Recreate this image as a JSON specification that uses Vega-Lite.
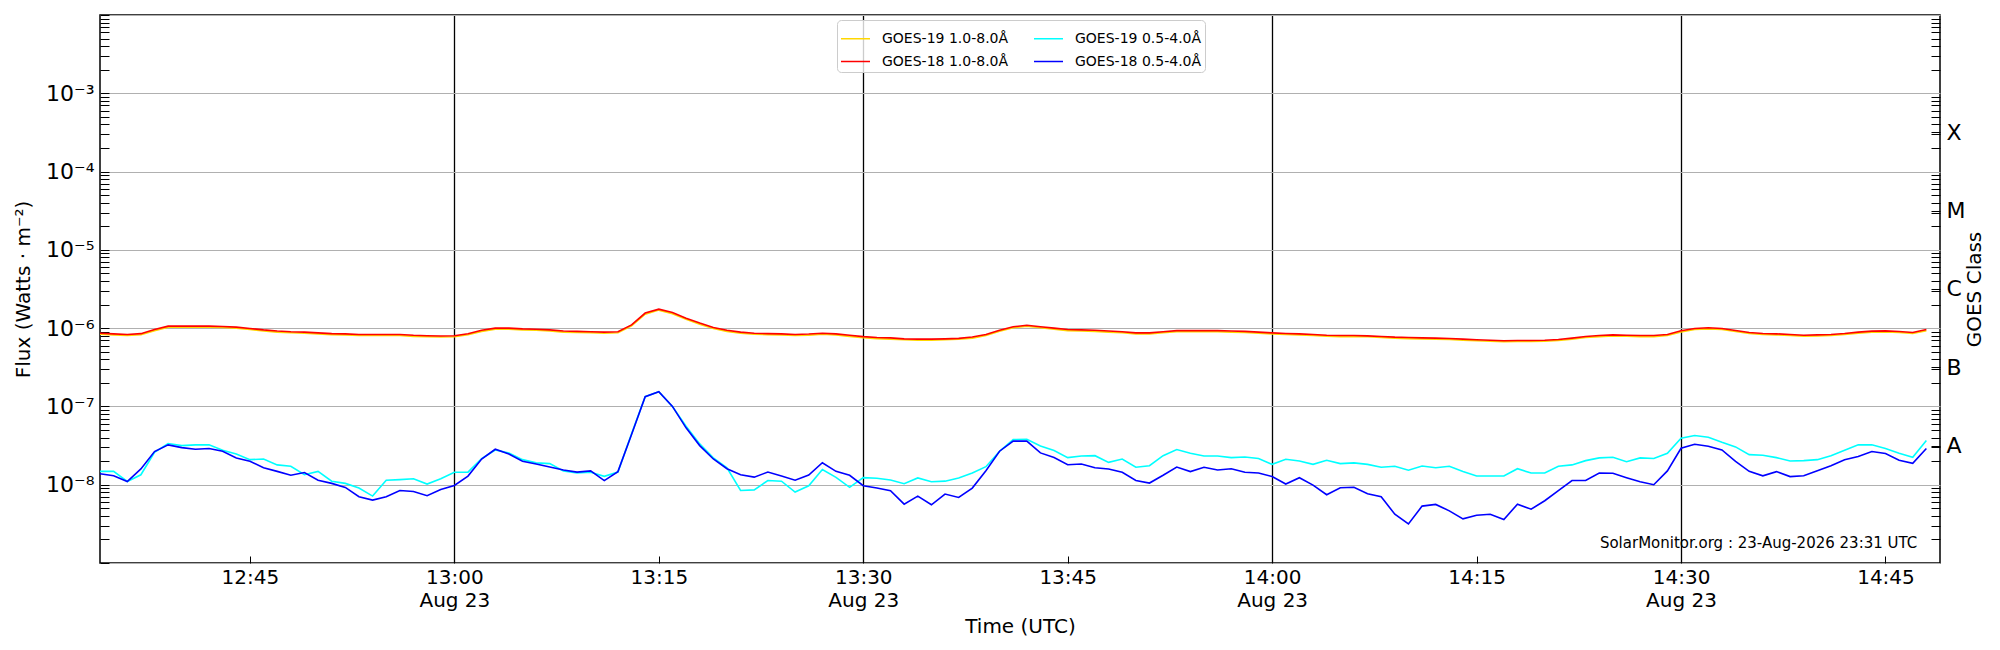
{
  "$schema": "https://vega.github.io/schema/vega-lite/v6.json",
  "width": 1840,
  "height": 548,
  "autosize": "none",
  "padding": {"left": 100, "top": 15, "right": 60, "bottom": 87},
  "config": {
    "font": "DejaVu Sans",
    "view": {"stroke": "black", "strokeWidth": 1.5},
    "axis": {"domain": false, "labelColor": "black", "titleColor": "black", "tickColor": "black", "titleFontWeight": "normal", "labelOverlap": false, "labelFlush": false}
  },
  "datasets": {
    "goes": [
      {"t":"2026-08-23T12:34:00Z","g19l":8.34e-7,"g19s":1.48e-8,"g18l":8.6e-7,"g18s":1.38e-8},
      {"t":"2026-08-23T12:35:00Z","g19l":8.2e-7,"g19s":1.48e-8,"g18l":8.45e-7,"g18s":1.30e-8},
      {"t":"2026-08-23T12:36:00Z","g19l":8.05e-7,"g19s":1.10e-8,"g18l":8.3e-7,"g18s":1.10e-8},
      {"t":"2026-08-23T12:37:00Z","g19l":8.25e-7,"g19s":1.34e-8,"g18l":8.5e-7,"g18s":1.59e-8},
      {"t":"2026-08-23T12:38:00Z","g19l":9.3e-7,"g19s":2.60e-8,"g18l":9.6e-7,"g18s":2.65e-8},
      {"t":"2026-08-23T12:39:00Z","g19l":1.03e-6,"g19s":3.36e-8,"g18l":1.06e-6,"g18s":3.23e-8},
      {"t":"2026-08-23T12:40:00Z","g19l":1.03e-6,"g19s":3.16e-8,"g18l":1.06e-6,"g18s":2.98e-8},
      {"t":"2026-08-23T12:41:00Z","g19l":1.03e-6,"g19s":3.23e-8,"g18l":1.06e-6,"g18s":2.84e-8},
      {"t":"2026-08-23T12:42:00Z","g19l":1.03e-6,"g19s":3.23e-8,"g18l":1.06e-6,"g18s":2.90e-8},
      {"t":"2026-08-23T12:43:00Z","g19l":1.02e-6,"g19s":2.75e-8,"g18l":1.05e-6,"g18s":2.68e-8},
      {"t":"2026-08-23T12:44:00Z","g19l":1.0e-6,"g19s":2.47e-8,"g18l":1.03e-6,"g18s":2.20e-8},
      {"t":"2026-08-23T12:45:00Z","g19l":9.6e-7,"g19s":2.09e-8,"g18l":9.9e-7,"g18s":1.99e-8},
      {"t":"2026-08-23T12:46:00Z","g19l":9.2e-7,"g19s":2.13e-8,"g18l":9.5e-7,"g18s":1.65e-8},
      {"t":"2026-08-23T12:47:00Z","g19l":8.9e-7,"g19s":1.79e-8,"g18l":9.2e-7,"g18s":1.48e-8},
      {"t":"2026-08-23T12:48:00Z","g19l":8.75e-7,"g19s":1.72e-8,"g18l":9.0e-7,"g18s":1.32e-8},
      {"t":"2026-08-23T12:49:00Z","g19l":8.6e-7,"g19s":1.34e-8,"g18l":8.9e-7,"g18s":1.43e-8},
      {"t":"2026-08-23T12:50:00Z","g19l":8.45e-7,"g19s":1.48e-8,"g18l":8.7e-7,"g18s":1.14e-8},
      {"t":"2026-08-23T12:51:00Z","g19l":8.25e-7,"g19s":1.11e-8,"g18l":8.5e-7,"g18s":1.04e-8},
      {"t":"2026-08-23T12:52:00Z","g19l":8.2e-7,"g19s":1.04e-8,"g18l":8.45e-7,"g18s":9.25e-9},
      {"t":"2026-08-23T12:53:00Z","g19l":8.05e-7,"g19s":9.06e-9,"g18l":8.3e-7,"g18s":7.02e-9},
      {"t":"2026-08-23T12:54:00Z","g19l":8.05e-7,"g19s":7.16e-9,"g18l":8.3e-7,"g18s":6.36e-9},
      {"t":"2026-08-23T12:55:00Z","g19l":8.05e-7,"g19s":1.14e-8,"g18l":8.3e-7,"g18s":7.02e-9},
      {"t":"2026-08-23T12:56:00Z","g19l":8.05e-7,"g19s":1.16e-8,"g18l":8.3e-7,"g18s":8.45e-9},
      {"t":"2026-08-23T12:57:00Z","g19l":7.85e-7,"g19s":1.19e-8,"g18l":8.1e-7,"g18s":8.2e-9},
      {"t":"2026-08-23T12:58:00Z","g19l":7.75e-7,"g19s":1.02e-8,"g18l":8.0e-7,"g18s":7.23e-9},
      {"t":"2026-08-23T12:59:00Z","g19l":7.7e-7,"g19s":1.19e-8,"g18l":7.95e-7,"g18s":8.7e-9},
      {"t":"2026-08-23T13:00:00Z","g19l":7.75e-7,"g19s":1.44e-8,"g18l":8.0e-7,"g18s":9.8e-9},
      {"t":"2026-08-23T13:01:00Z","g19l":8.25e-7,"g19s":1.45e-8,"g18l":8.5e-7,"g18s":1.29e-8},
      {"t":"2026-08-23T13:02:00Z","g19l":9.1e-7,"g19s":2.16e-8,"g18l":9.4e-7,"g18s":2.13e-8},
      {"t":"2026-08-23T13:03:00Z","g19l":9.7e-7,"g19s":2.78e-8,"g18l":1.0e-6,"g18s":2.84e-8},
      {"t":"2026-08-23T13:04:00Z","g19l":9.7e-7,"g19s":2.55e-8,"g18l":1.0e-6,"g18s":2.47e-8},
      {"t":"2026-08-23T13:05:00Z","g19l":9.5e-7,"g19s":2.09e-8,"g18l":9.8e-7,"g18s":1.99e-8},
      {"t":"2026-08-23T13:06:00Z","g19l":9.4e-7,"g19s":1.90e-8,"g18l":9.7e-7,"g18s":1.84e-8},
      {"t":"2026-08-23T13:07:00Z","g19l":9.2e-7,"g19s":1.86e-8,"g18l":9.5e-7,"g18s":1.68e-8},
      {"t":"2026-08-23T13:08:00Z","g19l":8.9e-7,"g19s":1.50e-8,"g18l":9.2e-7,"g18s":1.54e-8},
      {"t":"2026-08-23T13:09:00Z","g19l":8.8e-7,"g19s":1.41e-8,"g18l":9.1e-7,"g18s":1.45e-8},
      {"t":"2026-08-23T13:10:00Z","g19l":8.75e-7,"g19s":1.44e-8,"g18l":9.0e-7,"g18s":1.50e-8},
      {"t":"2026-08-23T13:11:00Z","g19l":8.6e-7,"g19s":1.28e-8,"g18l":8.9e-7,"g18s":1.13e-8},
      {"t":"2026-08-23T13:12:00Z","g19l":8.75e-7,"g19s":1.45e-8,"g18l":9.0e-7,"g18s":1.47e-8},
      {"t":"2026-08-23T13:13:00Z","g19l":1.07e-6,"g19s":4.46e-8,"g18l":1.10e-6,"g18s":4.38e-8},
      {"t":"2026-08-23T13:14:00Z","g19l":1.51e-6,"g19s":1.33e-7,"g18l":1.56e-6,"g18s":1.33e-7},
      {"t":"2026-08-23T13:15:00Z","g19l":1.70e-6,"g19s":1.54e-7,"g18l":1.75e-6,"g18s":1.54e-7},
      {"t":"2026-08-23T13:16:00Z","g19l":1.53e-6,"g19s":1.0e-7,"g18l":1.58e-6,"g18s":1.0e-7},
      {"t":"2026-08-23T13:17:00Z","g19l":1.30e-6,"g19s":5.6e-8,"g18l":1.34e-6,"g18s":5.33e-8},
      {"t":"2026-08-23T13:18:00Z","g19l":1.12e-6,"g19s":3.32e-8,"g18l":1.16e-6,"g18s":3.16e-8},
      {"t":"2026-08-23T13:19:00Z","g19l":9.9e-7,"g19s":2.20e-8,"g18l":1.02e-6,"g18s":2.13e-8},
      {"t":"2026-08-23T13:20:00Z","g19l":9.1e-7,"g19s":1.64e-8,"g18l":9.4e-7,"g18s":1.60e-8},
      {"t":"2026-08-23T13:21:00Z","g19l":8.6e-7,"g19s":8.45e-9,"g18l":8.9e-7,"g18s":1.34e-8},
      {"t":"2026-08-23T13:22:00Z","g19l":8.35e-7,"g19s":8.6e-9,"g18l":8.6e-7,"g18s":1.25e-8},
      {"t":"2026-08-23T13:23:00Z","g19l":8.25e-7,"g19s":1.13e-8,"g18l":8.5e-7,"g18s":1.45e-8},
      {"t":"2026-08-23T13:24:00Z","g19l":8.2e-7,"g19s":1.11e-8,"g18l":8.45e-7,"g18s":1.29e-8},
      {"t":"2026-08-23T13:25:00Z","g19l":8.05e-7,"g19s":8.05e-9,"g18l":8.3e-7,"g18s":1.14e-8},
      {"t":"2026-08-23T13:26:00Z","g19l":8.15e-7,"g19s":9.7e-9,"g18l":8.4e-7,"g18s":1.33e-8},
      {"t":"2026-08-23T13:27:00Z","g19l":8.35e-7,"g19s":1.56e-8,"g18l":8.6e-7,"g18s":1.91e-8},
      {"t":"2026-08-23T13:28:00Z","g19l":8.2e-7,"g19s":1.24e-8,"g18l":8.45e-7,"g18s":1.48e-8},
      {"t":"2026-08-23T13:29:00Z","g19l":7.85e-7,"g19s":9.25e-9,"g18l":8.1e-7,"g18s":1.32e-8},
      {"t":"2026-08-23T13:30:00Z","g19l":7.55e-7,"g19s":1.23e-8,"g18l":7.8e-7,"g18s":9.7e-9},
      {"t":"2026-08-23T13:31:00Z","g19l":7.35e-7,"g19s":1.21e-8,"g18l":7.6e-7,"g18s":9.06e-9},
      {"t":"2026-08-23T13:32:00Z","g19l":7.25e-7,"g19s":1.15e-8,"g18l":7.5e-7,"g18s":8.38e-9},
      {"t":"2026-08-23T13:33:00Z","g19l":7.1e-7,"g19s":1.03e-8,"g18l":7.3e-7,"g18s":5.65e-9},
      {"t":"2026-08-23T13:34:00Z","g19l":7.0e-7,"g19s":1.22e-8,"g18l":7.25e-7,"g18s":7.16e-9},
      {"t":"2026-08-23T13:35:00Z","g19l":7.0e-7,"g19s":1.09e-8,"g18l":7.25e-7,"g18s":5.54e-9},
      {"t":"2026-08-23T13:36:00Z","g19l":7.1e-7,"g19s":1.11e-8,"g18l":7.3e-7,"g18s":7.6e-9},
      {"t":"2026-08-23T13:37:00Z","g19l":7.2e-7,"g19s":1.22e-8,"g18l":7.4e-7,"g18s":6.88e-9},
      {"t":"2026-08-23T13:38:00Z","g19l":7.45e-7,"g19s":1.41e-8,"g18l":7.7e-7,"g18s":9.06e-9},
      {"t":"2026-08-23T13:39:00Z","g19l":8.05e-7,"g19s":1.70e-8,"g18l":8.3e-7,"g18s":1.51e-8},
      {"t":"2026-08-23T13:40:00Z","g19l":9.1e-7,"g19s":2.68e-8,"g18l":9.4e-7,"g18s":2.68e-8},
      {"t":"2026-08-23T13:41:00Z","g19l":1.01e-6,"g19s":3.77e-8,"g18l":1.04e-6,"g18s":3.6e-8},
      {"t":"2026-08-23T13:42:00Z","g19l":1.06e-6,"g19s":3.81e-8,"g18l":1.09e-6,"g18s":3.6e-8},
      {"t":"2026-08-23T13:43:00Z","g19l":1.01e-6,"g19s":3.13e-8,"g18l":1.04e-6,"g18s":2.55e-8},
      {"t":"2026-08-23T13:44:00Z","g19l":9.7e-7,"g19s":2.73e-8,"g18l":1.0e-6,"g18s":2.22e-8},
      {"t":"2026-08-23T13:45:00Z","g19l":9.3e-7,"g19s":2.22e-8,"g18l":9.6e-7,"g18s":1.80e-8},
      {"t":"2026-08-23T13:46:00Z","g19l":9.2e-7,"g19s":2.33e-8,"g18l":9.5e-7,"g18s":1.84e-8},
      {"t":"2026-08-23T13:47:00Z","g19l":9.1e-7,"g19s":2.35e-8,"g18l":9.4e-7,"g18s":1.65e-8},
      {"t":"2026-08-23T13:48:00Z","g19l":8.9e-7,"g19s":1.93e-8,"g18l":9.2e-7,"g18s":1.59e-8},
      {"t":"2026-08-23T13:49:00Z","g19l":8.75e-7,"g19s":2.13e-8,"g18l":9.0e-7,"g18s":1.44e-8},
      {"t":"2026-08-23T13:50:00Z","g19l":8.45e-7,"g19s":1.67e-8,"g18l":8.7e-7,"g18s":1.13e-8},
      {"t":"2026-08-23T13:51:00Z","g19l":8.45e-7,"g19s":1.75e-8,"g18l":8.7e-7,"g18s":1.05e-8},
      {"t":"2026-08-23T13:52:00Z","g19l":8.75e-7,"g19s":2.35e-8,"g18l":9.0e-7,"g18s":1.32e-8},
      {"t":"2026-08-23T13:53:00Z","g19l":9.0e-7,"g19s":2.81e-8,"g18l":9.3e-7,"g18s":1.68e-8},
      {"t":"2026-08-23T13:54:00Z","g19l":9.0e-7,"g19s":2.52e-8,"g18l":9.3e-7,"g18s":1.47e-8},
      {"t":"2026-08-23T13:55:00Z","g19l":9.0e-7,"g19s":2.33e-8,"g18l":9.3e-7,"g18s":1.67e-8},
      {"t":"2026-08-23T13:56:00Z","g19l":9.0e-7,"g19s":2.33e-8,"g18l":9.3e-7,"g18s":1.54e-8},
      {"t":"2026-08-23T13:57:00Z","g19l":8.9e-7,"g19s":2.22e-8,"g18l":9.2e-7,"g18s":1.60e-8},
      {"t":"2026-08-23T13:58:00Z","g19l":8.8e-7,"g19s":2.26e-8,"g18l":9.1e-7,"g18s":1.44e-8},
      {"t":"2026-08-23T13:59:00Z","g19l":8.6e-7,"g19s":2.16e-8,"g18l":8.9e-7,"g18s":1.41e-8},
      {"t":"2026-08-23T14:00:00Z","g19l":8.45e-7,"g19s":1.82e-8,"g18l":8.7e-7,"g18s":1.27e-8},
      {"t":"2026-08-23T14:01:00Z","g19l":8.3e-7,"g19s":2.11e-8,"g18l":8.55e-7,"g18s":1.02e-8},
      {"t":"2026-08-23T14:02:00Z","g19l":8.2e-7,"g19s":2.01e-8,"g18l":8.46e-7,"g18s":1.23e-8},
      {"t":"2026-08-23T14:03:00Z","g19l":8.05e-7,"g19s":1.82e-8,"g18l":8.3e-7,"g18s":9.9e-9},
      {"t":"2026-08-23T14:04:00Z","g19l":7.9e-7,"g19s":2.05e-8,"g18l":8.13e-7,"g18s":7.45e-9},
      {"t":"2026-08-23T14:05:00Z","g19l":7.8e-7,"g19s":1.86e-8,"g18l":8.05e-7,"g18s":9.16e-9},
      {"t":"2026-08-23T14:06:00Z","g19l":7.8e-7,"g19s":1.90e-8,"g18l":8.05e-7,"g18s":9.3e-9},
      {"t":"2026-08-23T14:07:00Z","g19l":7.75e-7,"g19s":1.82e-8,"g18l":7.97e-7,"g18s":7.67e-9},
      {"t":"2026-08-23T14:08:00Z","g19l":7.6e-7,"g19s":1.67e-8,"g18l":7.82e-7,"g18s":7.02e-9},
      {"t":"2026-08-23T14:09:00Z","g19l":7.45e-7,"g19s":1.72e-8,"g18l":7.67e-7,"g18s":4.2e-9},
      {"t":"2026-08-23T14:10:00Z","g19l":7.35e-7,"g19s":1.53e-8,"g18l":7.6e-7,"g18s":3.16e-9},
      {"t":"2026-08-23T14:11:00Z","g19l":7.3e-7,"g19s":1.73e-8,"g18l":7.52e-7,"g18s":5.33e-9},
      {"t":"2026-08-23T14:12:00Z","g19l":7.2e-7,"g19s":1.65e-8,"g18l":7.45e-7,"g18s":5.6e-9},
      {"t":"2026-08-23T14:13:00Z","g19l":7.15e-7,"g19s":1.72e-8,"g18l":7.37e-7,"g18s":4.63e-9},
      {"t":"2026-08-23T14:14:00Z","g19l":7.0e-7,"g19s":1.48e-8,"g18l":7.23e-7,"g18s":3.66e-9},
      {"t":"2026-08-23T14:15:00Z","g19l":6.9e-7,"g19s":1.29e-8,"g18l":7.1e-7,"g18s":4.08e-9},
      {"t":"2026-08-23T14:16:00Z","g19l":6.8e-7,"g19s":1.29e-8,"g18l":7.0e-7,"g18s":4.2e-9},
      {"t":"2026-08-23T14:17:00Z","g19l":6.7e-7,"g19s":1.29e-8,"g18l":6.9e-7,"g18s":3.59e-9},
      {"t":"2026-08-23T14:18:00Z","g19l":6.75e-7,"g19s":1.60e-8,"g18l":6.95e-7,"g18s":5.65e-9},
      {"t":"2026-08-23T14:19:00Z","g19l":6.75e-7,"g19s":1.41e-8,"g18l":6.95e-7,"g18s":4.87e-9},
      {"t":"2026-08-23T14:20:00Z","g19l":6.8e-7,"g19s":1.41e-8,"g18l":7.0e-7,"g18s":6.24e-9},
      {"t":"2026-08-23T14:21:00Z","g19l":6.95e-7,"g19s":1.72e-8,"g18l":7.16e-7,"g18s":8.38e-9},
      {"t":"2026-08-23T14:22:00Z","g19l":7.2e-7,"g19s":1.79e-8,"g18l":7.45e-7,"g18s":1.13e-8},
      {"t":"2026-08-23T14:23:00Z","g19l":7.6e-7,"g19s":2.03e-8,"g18l":7.82e-7,"g18s":1.13e-8},
      {"t":"2026-08-23T14:24:00Z","g19l":7.8e-7,"g19s":2.20e-8,"g18l":8.05e-7,"g18s":1.41e-8},
      {"t":"2026-08-23T14:25:00Z","g19l":7.95e-7,"g19s":2.24e-8,"g18l":8.21e-7,"g18s":1.40e-8},
      {"t":"2026-08-23T14:26:00Z","g19l":7.9e-7,"g19s":1.97e-8,"g18l":8.13e-7,"g18s":1.23e-8},
      {"t":"2026-08-23T14:27:00Z","g19l":7.8e-7,"g19s":2.20e-8,"g18l":8.05e-7,"g18s":1.09e-8},
      {"t":"2026-08-23T14:28:00Z","g19l":7.8e-7,"g19s":2.16e-8,"g18l":8.05e-7,"g18s":1.0e-8},
      {"t":"2026-08-23T14:29:00Z","g19l":8.05e-7,"g19s":2.52e-8,"g18l":8.3e-7,"g18s":1.50e-8},
      {"t":"2026-08-23T14:30:00Z","g19l":8.95e-7,"g19s":3.93e-8,"g18l":9.24e-7,"g18s":2.92e-8},
      {"t":"2026-08-23T14:31:00Z","g19l":9.6e-7,"g19s":4.25e-8,"g18l":9.9e-7,"g18s":3.29e-8},
      {"t":"2026-08-23T14:32:00Z","g19l":9.8e-7,"g19s":4.05e-8,"g18l":1.01e-6,"g18s":3.10e-8},
      {"t":"2026-08-23T14:33:00Z","g19l":9.6e-7,"g19s":3.49e-8,"g18l":9.9e-7,"g18s":2.78e-8},
      {"t":"2026-08-23T14:34:00Z","g19l":9.05e-7,"g19s":3.04e-8,"g18l":9.34e-7,"g18s":1.99e-8},
      {"t":"2026-08-23T14:35:00Z","g19l":8.55e-7,"g19s":2.42e-8,"g18l":8.8e-7,"g18s":1.48e-8},
      {"t":"2026-08-23T14:36:00Z","g19l":8.3e-7,"g19s":2.38e-8,"g18l":8.54e-7,"g18s":1.30e-8},
      {"t":"2026-08-23T14:37:00Z","g19l":8.2e-7,"g19s":2.22e-8,"g18l":8.46e-7,"g18s":1.47e-8},
      {"t":"2026-08-23T14:38:00Z","g19l":8.05e-7,"g19s":2.01e-8,"g18l":8.3e-7,"g18s":1.27e-8},
      {"t":"2026-08-23T14:39:00Z","g19l":7.9e-7,"g19s":2.03e-8,"g18l":8.13e-7,"g18s":1.30e-8},
      {"t":"2026-08-23T14:40:00Z","g19l":7.95e-7,"g19s":2.09e-8,"g18l":8.21e-7,"g18s":1.51e-8},
      {"t":"2026-08-23T14:41:00Z","g19l":8.05e-7,"g19s":2.35e-8,"g18l":8.3e-7,"g18s":1.75e-8},
      {"t":"2026-08-23T14:42:00Z","g19l":8.3e-7,"g19s":2.75e-8,"g18l":8.54e-7,"g18s":2.09e-8},
      {"t":"2026-08-23T14:43:00Z","g19l":8.6e-7,"g19s":3.23e-8,"g18l":8.89e-7,"g18s":2.29e-8},
      {"t":"2026-08-23T14:44:00Z","g19l":8.9e-7,"g19s":3.23e-8,"g18l":9.15e-7,"g18s":2.65e-8},
      {"t":"2026-08-23T14:45:00Z","g19l":8.95e-7,"g19s":2.90e-8,"g18l":9.24e-7,"g18s":2.50e-8},
      {"t":"2026-08-23T14:46:00Z","g19l":8.8e-7,"g19s":2.52e-8,"g18l":9.06e-7,"g18s":2.05e-8},
      {"t":"2026-08-23T14:47:00Z","g19l":8.55e-7,"g19s":2.24e-8,"g18l":8.8e-7,"g18s":1.88e-8},
      {"t":"2026-08-23T14:48:00Z","g19l":9.3e-7,"g19s":3.67e-8,"g18l":9.6e-7,"g18s":2.90e-8}
    ],
    "annot": [
      {"t":"2026-08-23T14:47:20Z","v":1.8e-9,"label":"SolarMonitor.org : 23-Aug-2026 23:31 UTC"}
    ]
  },
  "layer": [
    {
      "data": {"name": "goes"},
      "transform": [{"fold": ["g19l", "g19s", "g18l", "g18s"], "as": ["key", "flux"]}],
      "mark": {"type": "line", "strokeWidth": 1.6},
      "encoding": {
        "x": {
          "field": "t", "type": "temporal",
          "scale": {"type": "utc", "domain": [
            {"year": 2026, "month": 8, "date": 23, "hours": 12, "minutes": 34, "utc": true},
            {"year": 2026, "month": 8, "date": 23, "hours": 14, "minutes": 49, "utc": true}
          ]},
          "axis": {
            "title": "Time (UTC)",
            "values": [
              {"year": 2026, "month": 8, "date": 23, "hours": 12, "minutes": 45, "utc": true},
              {"year": 2026, "month": 8, "date": 23, "hours": 13, "minutes": 0, "utc": true},
              {"year": 2026, "month": 8, "date": 23, "hours": 13, "minutes": 15, "utc": true},
              {"year": 2026, "month": 8, "date": 23, "hours": 13, "minutes": 30, "utc": true},
              {"year": 2026, "month": 8, "date": 23, "hours": 13, "minutes": 45, "utc": true},
              {"year": 2026, "month": 8, "date": 23, "hours": 14, "minutes": 0, "utc": true},
              {"year": 2026, "month": 8, "date": 23, "hours": 14, "minutes": 15, "utc": true},
              {"year": 2026, "month": 8, "date": 23, "hours": 14, "minutes": 30, "utc": true},
              {"year": 2026, "month": 8, "date": 23, "hours": 14, "minutes": 45, "utc": true}
            ],
            "labelExpr": "utcminutes(datum.value) % 30 == 0 ? [utcFormat(datum.value, '%H:%M'), utcFormat(datum.value, '%b %d')] : utcFormat(datum.value, '%H:%M')",
            "labelFontSize": 20,
            "labelLineHeight": 23,
            "labelPadding": 11,
            "tickSize": -7,
            "tickWidth": 1,
            "grid": true,
            "gridColor": {"condition": {"test": "utcminutes(datum.value) % 30 == 0", "value": "black"}, "value": "transparent"},
            "gridWidth": 1.3,
            "gridOpacity": 1,
            "titleFontSize": 20,
            "titlePadding": 6
          }
        },
        "y": {
          "field": "flux", "type": "quantitative",
          "scale": {"type": "log", "domain": [1e-9, 1e-2]},
          "axis": {
            "title": "Flux (Watts · m⁻²)",
            "values": [1e-9,2e-9,3e-9,4e-9,5e-9,6e-9,7e-9,8e-9,9e-9,1e-8,2e-8,3e-8,4e-8,5e-8,6e-8,7e-8,8e-8,9e-8,1e-7,2e-7,3e-7,4e-7,5e-7,6e-7,7e-7,8e-7,9e-7,1e-6,2e-6,3e-6,4e-6,5e-6,6e-6,7e-6,8e-6,9e-6,1e-5,2e-5,3e-5,4e-5,5e-5,6e-5,7e-5,8e-5,9e-5,1e-4,2e-4,3e-4,4e-4,5e-4,6e-4,7e-4,8e-4,9e-4,1e-3,2e-3,3e-3,4e-3,5e-3,6e-3,7e-3,8e-3,9e-3,1e-2],
            "labelExpr": "abs(datum.value / pow(10, round(log(datum.value) / LN10)) - 1) < 0.001 && datum.value > 5e-9 && datum.value < 5e-3 ? '10⁻' + ['', '', '', '³', '⁴', '⁵', '⁶', '⁷', '⁸'][-round(log(datum.value) / LN10)] : ''",
            "labelFontSize": 22,
            "labelPadding": 15,
            "tickSize": -9,
            "tickWidth": 1,
            "grid": true,
            "gridColor": {"condition": {"test": "abs(datum.value / pow(10, round(log(datum.value) / LN10)) - 1) < 0.001", "value": "#b0b0b0"}, "value": "transparent"},
            "gridWidth": 1.2,
            "gridOpacity": 1,
            "titleFontSize": 20,
            "titlePadding": 12
          }
        },
        "color": {
          "field": "key", "type": "nominal",
          "scale": {"domain": ["g19l", "g18l", "g19s", "g18s"], "range": ["#ffd700", "#ff0000", "#00ffff", "#0000ff"]},
          "legend": {
            "title": null,
            "orient": "none",
            "legendX": 737,
            "legendY": 5,
            "columns": 2,
            "symbolType": "stroke",
            "symbolSize": 841,
            "symbolStrokeWidth": 1.5,
            "labelFontSize": 14,
            "labelColor": "black",
            "labelOffset": 11,
            "labelLimit": 300,
            "columnPadding": 22,
            "rowPadding": -6,
            "padding": 3,
            "strokeColor": "#cccccc",
            "fillColor": "rgba(255,255,255,0.8)",
            "cornerRadius": 4,
            "labelExpr": "datum.label == 'g19l' ? 'GOES-19 1.0-8.0Å' : datum.label == 'g19s' ? 'GOES-19 0.5-4.0Å' : datum.label == 'g18l' ? 'GOES-18 1.0-8.0Å' : 'GOES-18 0.5-4.0Å'"
          }
        }
      }
    },
    {
      "data": {"name": "annot"},
      "mark": {"type": "text", "align": "right", "baseline": "middle", "fontSize": 15, "color": "black"},
      "encoding": {
        "x": {"field": "t", "type": "temporal"},
        "y": {
          "field": "v", "type": "quantitative",
          "scale": {"type": "log", "domain": [1e-9, 1e-2]},
          "axis": {
            "orient": "right",
            "title": "GOES Class",
            "values": [2e-9,3e-9,4e-9,5e-9,6e-9,7e-9,8e-9,9e-9,2e-8,3e-8,3.16228e-8,4e-8,5e-8,6e-8,7e-8,8e-8,9e-8,2e-7,3e-7,3.16228e-7,4e-7,5e-7,6e-7,7e-7,8e-7,9e-7,2e-6,3e-6,3.16228e-6,4e-6,5e-6,6e-6,7e-6,8e-6,9e-6,2e-5,3e-5,3.16228e-5,4e-5,5e-5,6e-5,7e-5,8e-5,9e-5,2e-4,3e-4,3.16228e-4,4e-4,5e-4,6e-4,7e-4,8e-4,9e-4,2e-3,3e-3,4e-3,5e-3,6e-3,7e-3,8e-3,9e-3],
            "labelExpr": "abs(datum.value / (3.16228 * pow(10, floor(log(datum.value) / LN10))) - 1) < 0.001 ? ['', '', '', '', 'X', 'M', 'C', 'B', 'A'][-floor(log(datum.value) / LN10)] : ''",
            "labelFontSize": 22,
            "labelPadding": 15,
            "tickSize": -9,
            "tickWidth": 1,
            "grid": false,
            "titleFontSize": 20,
            "titleAngle": -90,
            "titleBaseline": "top",
            "titlePadding": 0
          }
        },
        "text": {"field": "label"}
      }
    }
  ],
  "resolve": {"scale": {"y": "independent"}}
}
